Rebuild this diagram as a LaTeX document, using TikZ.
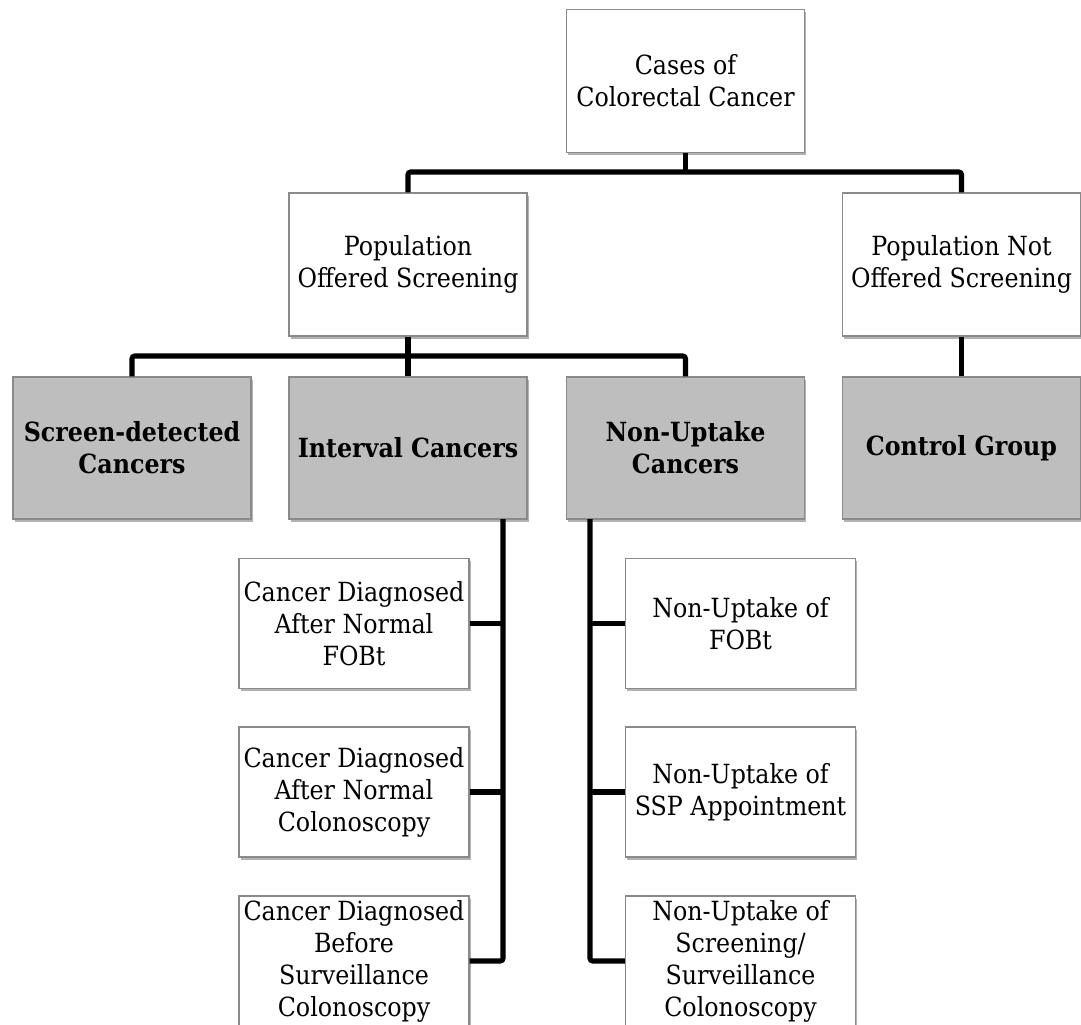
\documentclass[tikz,border=0pt]{standalone}
\usepackage{fontspec}
\setmainfont{DejaVu Serif Condensed}
\usetikzlibrary{shadows}
\definecolor{boxgray}{HTML}{BEBEBE}
\definecolor{edgegray}{HTML}{8A8A8A}
\tikzset{
  base/.style={draw=edgegray, line width=0.9pt, inner sep=0pt, align=center,
    font=\fontsize{19.8}{24}\selectfont,
    drop shadow={shadow xshift=1.2pt, shadow yshift=-2pt, opacity=0.3, fill=black}},
  bigbox/.style={base, fill=white, minimum width=178.5pt, minimum height=107.25pt},
  graybox/.style={base, fill=boxgray, minimum width=178.5pt, minimum height=106.5pt,
    font=\fontsize{19.8}{24}\selectfont\bfseries},
  subbox/.style={base, fill=white, minimum width=172.5pt, minimum height=97.5pt},
  conn/.style={line width=3.8pt, rounded corners=2pt, line cap=butt}
}
\begin{document}
\begin{tikzpicture}[x=0.75pt, y=-0.75pt]
\useasboundingbox (0,0) rectangle (1081,1024);
\coordinate (bus1) at (685.5,172);
\coordinate (bus2) at (408,356);
\coordinate (ivline) at (503,519);
\coordinate (nuline) at (590,519);

\node[bigbox] (top) at (685.5,81) {Cases of\\Colorectal Cancer};
\node[bigbox] (pop) at (408,264.5) {Population\\Offered Screening};
\node[bigbox] (popnot) at (961.5,264.5) {Population Not\\Offered Screening};

\node[graybox] (screen) at (132,448) {Screen-detected\\Cancers};
\node[graybox] (interval) at (408,448) {Interval Cancers};
\node[graybox] (nonup) at (685.5,448) {Non-Uptake\\Cancers};
\node[graybox] (control) at (961.5,448) {Control Group};

\node[subbox] (l1) at (354,623.5) {Cancer Diagnosed\\After Normal\\FOBt};
\node[subbox] (l2) at (354,792) {Cancer Diagnosed\\After Normal\\Colonoscopy};
\node[subbox] (l3) at (354,961) {Cancer Diagnosed\\Before\\Surveillance\\Colonoscopy};

\node[subbox] (r1) at (740.5,623.5) {Non-Uptake of\\FOBt};
\node[subbox] (r2) at (740.5,792) {Non-Uptake of\\SSP Appointment};
\node[subbox] (r3) at (740.5,961) {Non-Uptake of\\Screening/\\Surveillance\\Colonoscopy};

\draw[conn] (top.south) -- (bus1);
\draw[conn] (pop.north) |- (bus1) -| (popnot.north);
\draw[conn] (pop.south) -- (interval.north);
\draw[conn] (screen.north) |- (bus2) -| (nonup.north);
\draw[conn] (popnot.south) -- (control.north);

\draw[conn] (ivline) |- (l3.east);
\draw[conn] (l1.east) -- (l1.east -| ivline);
\draw[conn] (l2.east) -- (l2.east -| ivline);

\draw[conn] (nuline) |- (r3.west);
\draw[conn] (r1.west) -- (r1.west -| nuline);
\draw[conn] (r2.west) -- (r2.west -| nuline);
\end{tikzpicture}
\end{document}
